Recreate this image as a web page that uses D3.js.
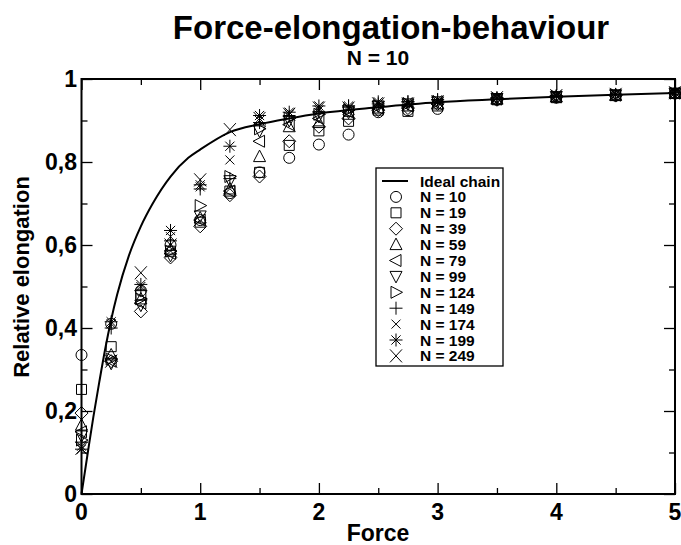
<!DOCTYPE html>
<html>
<head>
<meta charset="utf-8">
<script src="https://cdn.jsdelivr.net/npm/d3@7"></script>
<style>
body{margin:0;background:#fff;}
text{font-family:"Liberation Sans",Arial,sans-serif;font-weight:bold;fill:#000;}
</style>
</head>
<body>
<svg id="chart" width="681" height="545"></svg>
<script>
// force values where the chains were measured
var forces = [0,0.25,0.5,0.75,1,1.25,1.5,1.75,2,2.25,2.5,2.75,3,3.5,4,4.5,5];

var n10  = [0.335,0.41,0.49,0.60,0.66,0.725,0.775,0.81,0.842,0.866,0.92,0.925,0.928,0.95,0.955,0.96,0.965];
var n19  = [0.252,0.355,0.48,0.585,0.655,0.73,0.775,0.84,0.875,0.898,0.925,0.922,0.935,0.95,0.955,0.96,0.965];
var n39  = [0.195,0.32,0.44,0.57,0.645,0.72,0.765,0.85,0.885,0.905,0.925,0.93,0.94,0.95,0.957,0.96,0.965];
var n59  = [0.166,0.335,0.47,0.59,0.665,0.735,0.813,0.885,0.895,0.915,0.93,0.935,0.94,0.952,0.957,0.961,0.966];
var n79  = [0.15,0.32,0.46,0.58,0.66,0.73,0.85,0.89,0.905,0.92,0.93,0.935,0.94,0.952,0.957,0.961,0.966];
var n99  = [0.14,0.315,0.455,0.575,0.67,0.755,0.875,0.9,0.91,0.92,0.935,0.94,0.945,0.953,0.958,0.962,0.966];
var n124 = [0.13,0.325,0.47,0.585,0.695,0.765,0.88,0.905,0.915,0.925,0.935,0.94,0.945,0.953,0.958,0.962,0.966];
var n149 = [0.125,0.40,0.49,0.61,0.735,0.76,0.895,0.91,0.92,0.935,0.94,0.945,0.95,0.954,0.959,0.962,0.967];
var n174 = [0.115,0.41,0.50,0.62,0.74,0.805,0.9,0.915,0.925,0.93,0.94,0.94,0.945,0.954,0.959,0.962,0.967];
var n199 = [0.108,0.415,0.505,0.635,0.745,0.838,0.912,0.92,0.935,0.935,0.945,0.945,0.95,0.955,0.96,0.963,0.967];
var n249 = [0.11,0.32,0.533,0.60,0.757,0.878,0.905,0.915,0.93,0.93,0.94,0.94,0.945,0.955,0.96,0.963,0.967];

// ideal chain curve
var idealForce = [0,0.05,0.1,0.15,0.2,0.25,0.3,0.4,0.5,0.6,0.75,0.9,1,1.25,1.5,1.75,2,2.5,3,3.5,4,4.5,5];
var idealElong = [0,0.094,0.186,0.27,0.35,0.42,0.48,0.575,0.645,0.70,0.765,0.81,0.83,0.872,0.891,0.905,0.917,0.932,0.944,0.951,0.957,0.962,0.966];

var seriesNames = ["N = 10","N = 19","N = 39","N = 59","N = 79","N = 99","N = 124","N = 149","N = 174","N = 199","N = 249"];
var seriesValues = [n10,n19,n39,n59,n79,n99,n124,n149,n174,n199,n249];
var markers = ["circle","square","diamond","tri_up","tri_left","tri_down","tri_right","plus","cross","star","bigx"];

var xTicks = [0,1,2,3,4,5];
var yTicks = [0,0.2,0.4,0.6,0.8,1];

var svg = d3.select("#chart");
var x = d3.scaleLinear().domain([0,5]).range([81.5,675]);
var y = d3.scaleLinear().domain([0,1]).range([494,79]);
var fmt = function(d){ return String(d).replace(".",","); };

function marker_path(type){
	var p = d3.path();
	if(type=="circle"){
		p.moveTo(5.5,0); p.arc(0,0,5.5,0,2*Math.PI);
	}
	else if(type=="square"){
		p.rect(-5,-5,10,10);
	}
	else if(type=="diamond"){
		p.moveTo(0,-6.5); p.lineTo(6.5,0); p.lineTo(0,6.5); p.lineTo(-6.5,0); p.closePath();
	}
	else if(type=="tri_up"){
		p.moveTo(0,-6.5); p.lineTo(6,5); p.lineTo(-6,5); p.closePath();
	}
	else if(type=="tri_down"){
		p.moveTo(0,6.5); p.lineTo(6,-5); p.lineTo(-6,-5); p.closePath();
	}
	else if(type=="tri_left"){
		p.moveTo(-6.5,0); p.lineTo(5,-6); p.lineTo(5,6); p.closePath();
	}
	else if(type=="tri_right"){
		p.moveTo(6.5,0); p.lineTo(-5,-6); p.lineTo(-5,6); p.closePath();
	}
	else if(type=="plus"){
		p.moveTo(-6.5,0); p.lineTo(6.5,0); p.moveTo(0,-6.5); p.lineTo(0,6.5);
	}
	else if(type=="cross"){
		p.moveTo(-4.5,-4.5); p.lineTo(4.5,4.5); p.moveTo(-4.5,4.5); p.lineTo(4.5,-4.5);
	}
	else if(type=="star"){
		p.moveTo(-6.5,0); p.lineTo(6.5,0); p.moveTo(0,-6.5); p.lineTo(0,6.5);
		p.moveTo(-4.6,-4.6); p.lineTo(4.6,4.6); p.moveTo(-4.6,4.6); p.lineTo(4.6,-4.6);
	}
	else{
		p.moveTo(-6,-6.5); p.lineTo(6,6.5); p.moveTo(-6,6.5); p.lineTo(6,-6.5);
	}
	return p.toString();
}

// ticks on all four sides, pointing inward
function tick_axis(axis, ticksMajor, ticksMinor, side){
	var g = svg.append("g");
	g.call(axis.tickValues(ticksMinor).tickSize(-6).tickFormat(""));
	g.select(".domain").remove();
	var g2 = svg.append("g");
	g2.call(axis.tickValues(ticksMajor).tickSize(-11).tickFormat(""));
	g2.select(".domain").remove();
	[g,g2].forEach(function(s){
		s.attr("transform",side).selectAll("line").attr("stroke","#000").attr("stroke-width",1.3);
	});
}
tick_axis(d3.axisBottom(x), xTicks, [0.5,1.5,2.5,3.5,4.5], "translate(0,494)");
tick_axis(d3.axisTop(x), xTicks, [0.5,1.5,2.5,3.5,4.5], "translate(0,79)");
tick_axis(d3.axisLeft(y), yTicks, [0.1,0.3,0.5,0.7,0.9], "translate(81.5,0)");
tick_axis(d3.axisRight(y), yTicks, [0.1,0.3,0.5,0.7,0.9], "translate(675,0)");

svg.append("rect")
	.attr("x",x(0)).attr("y",y(1))
	.attr("width",x(5)-x(0)).attr("height",y(0)-y(1))
	.style("fill","none").style("stroke","#000").style("stroke-width",2);

// tick labels
svg.selectAll(".xl").data(xTicks).enter().append("text")
	.attr("x",function(d){ return x(d); }).attr("y",520)
	.attr("text-anchor","middle").style("font-size","23px")
	.text(fmt);
svg.selectAll(".yl").data(yTicks).enter().append("text")
	.attr("x",77).attr("y",function(d){ return y(d)+8; })
	.attr("text-anchor","end").style("font-size","23px")
	.text(fmt);

// titles
svg.append("text").attr("x",391).attr("y",39).attr("text-anchor","middle")
	.style("font-size","33px").text("Force-elongation-behaviour");
svg.append("text").attr("x",378).attr("y",65).attr("text-anchor","middle")
	.style("font-size","21px").text("N = 10");
svg.append("text").attr("x",378).attr("y",541).attr("text-anchor","middle")
	.style("font-size","23px").text("Force");
svg.append("text").attr("transform","translate(29,277) rotate(-90)").attr("text-anchor","middle")
	.style("font-size","22px").text("Relative elongation");

// ideal chain
var ideal = idealForce.map(function(f,i){ return [f, idealElong[i]]; });
svg.append("path").datum(ideal)
	.attr("d", d3.line().x(function(d){ return x(d[0]); }).y(function(d){ return y(d[1]); }).curve(d3.curveMonotoneX))
	.style("fill","none").style("stroke","#000").style("stroke-width",2);

// measured points
seriesValues.forEach(function(vals, si){
	svg.append("g").selectAll("path").data(vals).enter().append("path")
		.attr("transform",function(d,i){ return "translate(" + x(forces[i]) + "," + y(d) + ")"; })
		.attr("d", marker_path(markers[si]))
		.style("fill","none").style("stroke","#000").style("stroke-width",1);
});

// legend
var lg = svg.append("g").attr("transform","translate(376,168)");
lg.append("rect").attr("width",127).attr("height",198)
	.style("fill","#fff").style("stroke","#000").style("stroke-width",1.3);
var rowY = function(i){ return 13 + i*15.9; };
lg.append("line").attr("x1",6).attr("x2",32).attr("y1",rowY(0)).attr("y2",rowY(0))
	.style("stroke","#000").style("stroke-width",2);
lg.append("text").attr("x",44).attr("y",rowY(0)+5.5).style("font-size","15.5px").text("Ideal chain");
seriesNames.forEach(function(name, i){
	lg.append("path").attr("transform","translate(20," + rowY(i+1) + ")")
		.attr("d", marker_path(markers[i]))
		.style("fill","none").style("stroke","#000").style("stroke-width",1);
	lg.append("text").attr("x",44).attr("y",rowY(i+1)+5.5).style("font-size","15.5px").text(name);
});
</script>
</body>
</html>
